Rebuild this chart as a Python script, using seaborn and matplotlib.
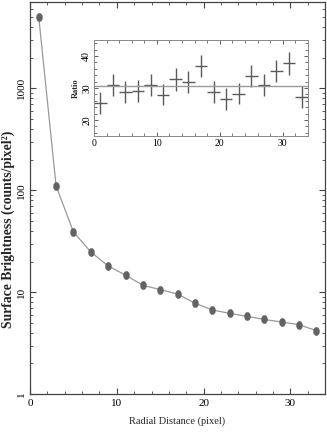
import numpy as np
import pandas as pd
import matplotlib
matplotlib.use("Agg")
import matplotlib.pyplot as plt
import seaborn as sns
from matplotlib.path import Path
from matplotlib.transforms import Affine2D
from matplotlib.ticker import FixedLocator, MultipleLocator, LogLocator, NullFormatter

# radial profile (surface brightness vs radius)
radius = [1, 3, 5, 7, 9, 11, 13, 15, 17, 19, 21, 23, 25, 27, 29, 31, 33]
brightness = [5000, 110, 39, 24.8, 18.1, 14.7, 11.7, 10.6, 9.6, 7.8,
              6.7, 6.2, 5.8, 5.4, 5.1, 4.8, 4.2]

# inset: ratio per bin with errors
ratio = [25.4, 30.9, 28.7, 29.0, 30.9, 27.9, 32.7, 31.9, 36.8, 28.7,
         26.6, 28.3, 33.7, 30.9, 35.4, 37.7, 27.2]
ratio_err = [3.5, 3.5, 3.4, 3.4, 3.5, 3.3, 3.5, 3.4, 3.4, 3.4,
             3.5, 3.4, 3.5, 3.4, 3.5, 3.5, 3.4]
radius_err = [1] * 17
ratio_mean = 30.8

sns.set_style("ticks")
plt.rcParams['font.family'] = ['Liberation Serif', 'DejaVu Serif']

axis_col = "#444444"
plt.rcParams.update({
    "axes.edgecolor": axis_col,
    "axes.linewidth": 0.9,
    "xtick.color": axis_col,
    "ytick.color": axis_col,
    "xtick.labelcolor": "black",
    "ytick.labelcolor": "black",
})

df = pd.DataFrame({"r": radius, "sb": brightness})

fig = plt.figure(figsize=(3.27, 4.36), dpi=100)
ax = fig.add_axes([0.092, 0.096, 0.902, 0.899])

ellipse = Path.unit_circle().transformed(Affine2D().scale(0.72, 1.0))
sns.lineplot(data=df, x="r", y="sb", ax=ax, color="#999999", linewidth=0.9,
             marker=ellipse, markersize=6, markerfacecolor="#636363",
             markeredgecolor="#636363", markeredgewidth=0.3)

ax.set_yscale("log")
ax.set_xlim(0, 34)
ax.set_ylim(1, 7000)
ax.xaxis.set_major_locator(FixedLocator([0, 10, 20, 30]))
ax.xaxis.set_minor_locator(MultipleLocator(2))
ax.yaxis.set_major_locator(FixedLocator([1, 10, 100, 1000]))
ax.yaxis.set_minor_locator(LogLocator(base=10, subs=np.arange(2, 10)))
ax.yaxis.set_minor_formatter(NullFormatter())
ax.set_yticklabels(["1", "10", "100", "1000"], rotation=90, va="center")
ax.tick_params(which="both", direction="in", top=True, right=True, labelsize=8)
ax.tick_params(which="major", length=4, width=0.8)
ax.tick_params(which="minor", length=2.5, width=0.6)
ax.tick_params(axis="y", pad=3)
ax.set_xlabel("Radial Distance (pixel)", fontsize=7.5, labelpad=6)
ax.set_ylabel("Surface Brightness (counts/pixel²)", fontsize=9.8,
              fontweight="bold")
ax.yaxis.set_label_coords(-0.05, 0.42)

# inset with the ratio
ins = fig.add_axes([0.2875, 0.688, 0.654, 0.220])
ins.errorbar(radius, ratio, xerr=radius_err, yerr=ratio_err, fmt="none",
             ecolor="#5a5a5a", elinewidth=1.0, capsize=0)
ins.axhline(ratio_mean, color="#9a9a9a", linewidth=1.0)
ins.set_xlim(0, 34)
ins.set_ylim(15, 45)
ins.xaxis.set_major_locator(FixedLocator([0, 10, 20, 30]))
ins.xaxis.set_minor_locator(MultipleLocator(2))
ins.yaxis.set_major_locator(FixedLocator([20, 30, 40]))
ins.yaxis.set_minor_locator(MultipleLocator(2))
ins.set_yticklabels(["20", "30", "40"], rotation=90, va="center")
ins.tick_params(which="both", direction="in", top=True, right=True, labelsize=7)
ins.tick_params(which="major", length=3, width=0.6)
ins.tick_params(which="minor", length=2, width=0.5)
ins.tick_params(axis="y", pad=2)
ins.tick_params(axis="x", pad=2)
ins.set_ylabel("Ratio", fontsize=6, fontweight="bold", labelpad=2)
for sp in ins.spines.values():
    sp.set_color("#888888")
    sp.set_linewidth(0.7)

fig.savefig("out.png", dpi=100)
